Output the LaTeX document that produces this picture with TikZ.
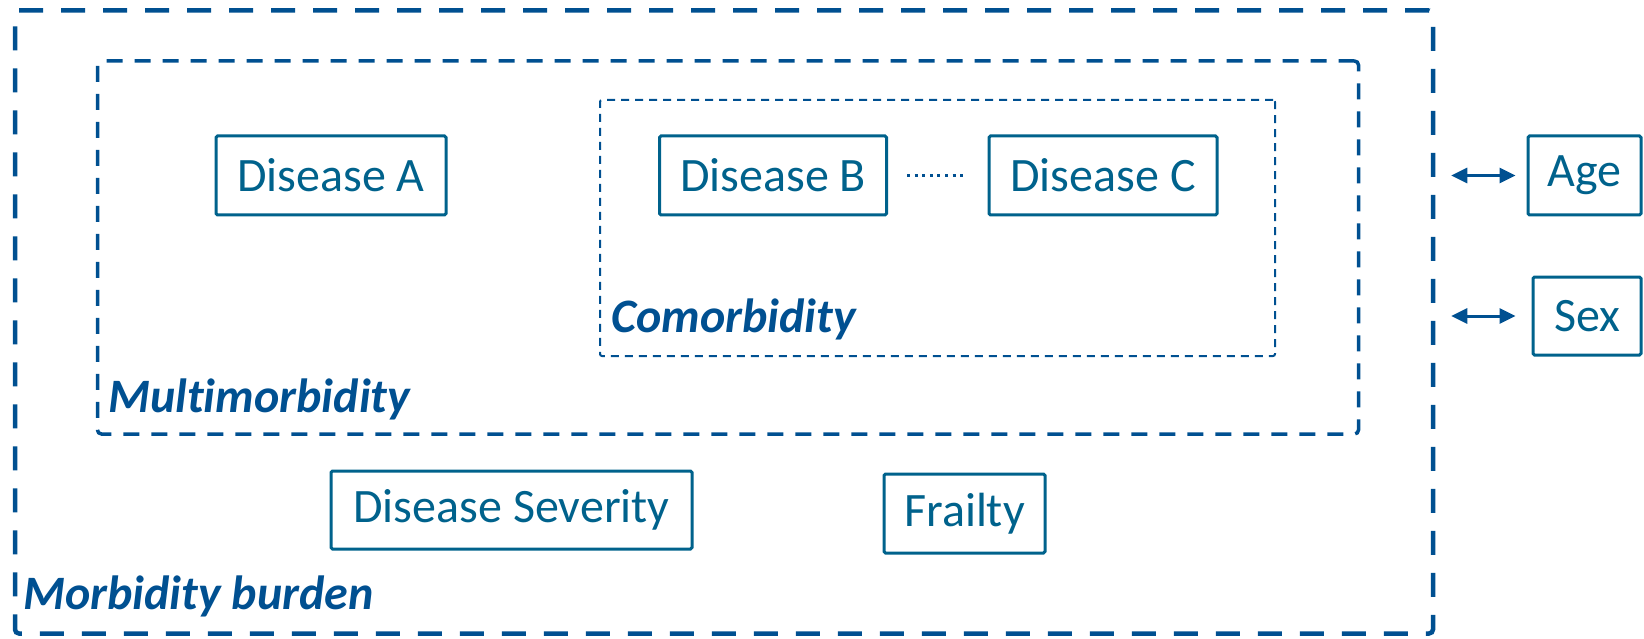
\documentclass[tikz,border=0pt]{standalone}
\usepackage{fontspec}
\setmainfont{Carlito}[Ligatures=NoCommon]
\usetikzlibrary{arrows.meta}
\definecolor{boxblue}{RGB}{0,98,140}
\definecolor{dashblue}{RGB}{0,80,145}
\begin{document}
\begin{tikzpicture}[x=1pt,y=-1pt,
  item/.style={draw=boxblue, line width=3pt, rounded corners=1.5pt, text=boxblue,
    font=\fontsize{48}{56}\selectfont, inner sep=0pt, anchor=center},
  frame/.style={draw=dashblue, rounded corners=4pt, inner sep=0pt, anchor=center},
  tag/.style={text=dashblue, font=\fontsize{48}{56}\selectfont\bfseries\itshape,
    anchor=base west, inner sep=0pt},
  biarrow/.style={draw=dashblue, line width=3pt,
    {Triangle[length=16pt,width=15pt]}-{Triangle[length=16pt,width=15pt]}}]
\useasboundingbox (0,0) rectangle (1644,639);

% nested dashed frames
\node[frame, line width=4.5pt, dash pattern=on 24pt off 18pt,
  minimum width=1418pt, minimum height=623pt] (outer) at (724,322) {};
\node[frame, line width=3.5pt, dash pattern=on 16pt off 12pt,
  minimum width=1261pt, minimum height=373pt] (multi) at (728,247.5) {};
\node[frame, line width=2pt, dash pattern=on 8pt off 6pt, rounded corners=2pt,
  minimum width=675pt, minimum height=256pt] (como) at (937.5,228) {};

% frame captions
\node[tag] (tagcomo) at (611,332) {Comorbidity};
\node[tag] (tagmulti) at (108,412) {Multimorbidity};
\node[tag] (tagburden) at (23,609) {Morbidity burden};

% condition boxes
\node[item, minimum width=230pt, minimum height=79pt] (disA) at (331,175.5) {Disease A};
\node[item, minimum width=227pt, minimum height=79pt] (disB) at (773,175.5) {Disease B};
\node[item, minimum width=228pt, minimum height=79pt] (disC) at (1103,175.5) {Disease C};
\node[item, minimum width=361pt, minimum height=78pt] (sev) at (511.5,510) {Disease Severity};
\node[item, minimum width=161pt, minimum height=79pt] (frail) at (964.5,513.5) {Frailty};
\node[item, minimum width=113pt, minimum height=79pt] (age) at (1584.5,175.5) {Age};
\node[item, minimum width=108pt, minimum height=78pt] (sex) at (1587,316) {Sex};

% dotted link between diseases
\draw[draw=dashblue, line width=3pt, dash pattern=on 3pt off 4.6pt,
  shorten <=19pt, shorten >=21pt] (disB.east) -- (disC.west);

% links to age and sex
\draw[biarrow] ([xshift=16pt]outer.east |- age.west) -- ([xshift=-11pt]age.west);
\draw[biarrow] ([xshift=16pt]outer.east |- sex.west) -- ([xshift=-16pt]sex.west);
\end{tikzpicture}
\end{document}
